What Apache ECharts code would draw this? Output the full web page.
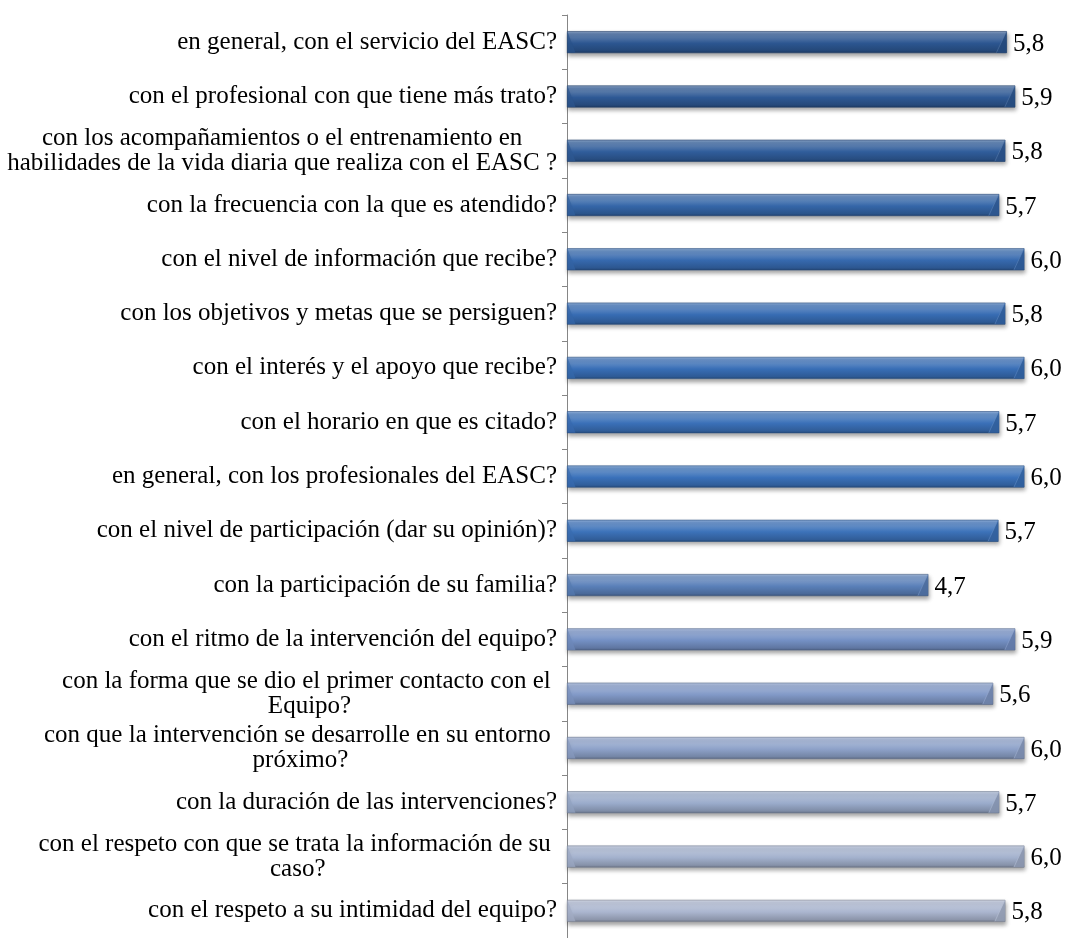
<!DOCTYPE html>
<html>
<head>
<meta charset="utf-8">
<script src="https://cdn.jsdelivr.net/npm/echarts@6/dist/echarts.min.js"></script>
<style>
html, body { margin: 0; padding: 0; background: #fff; }
#chart { width: 1075px; height: 938px; }
</style>
</head>
<body>
<div id="chart"></div>
<script>
var categories = [
  'en general, con el servicio del EASC?',
  'con el profesional con que tiene más trato?',
  'con los acompañamientos o el entrenamiento en\nhabilidades de la vida diaria que realiza con el EASC ?',
  'con la frecuencia con la que es atendido?',
  'con el nivel de información que recibe?',
  'con los objetivos y metas que se persiguen?',
  'con el interés y el apoyo que recibe?',
  'con el horario en que es citado?',
  'en general, con los profesionales del EASC?',
  'con el nivel de participación (dar su opinión)?',
  'con la participación de su familia?',
  'con el ritmo de la intervención del equipo?',
  'con la forma que se dio el primer contacto con el \nEquipo?',
  'con que la intervención se desarrolle en su entorno \npróximo?',
  'con la duración de las intervenciones?',
  'con el respeto con que se trata la información de su \ncaso?',
  'con el respeto a su intimidad del equipo?'
];
var values = [5.77, 5.88, 5.75, 5.67, 6.0, 5.75, 6.0, 5.67, 6.0, 5.66, 4.74, 5.88, 5.59, 6.0, 5.67, 6.0, 5.75];

// base colour of each bar, top to bottom
var barColors = ['#2c5691', '#2e5995', '#305d9b', '#3566a8', '#3669ae', '#376cb3', '#386eb6', '#3a70b8',
  '#3a71ba', '#3c72b9', '#5a80b9', '#7490c4', '#8199c7', '#8ea2c9', '#9aabcb', '#a3b1cd', '#abb6cf'];

function mix(hex, target, t) {
  var a = parseInt(hex.slice(1), 16);
  var r = (a >> 16) & 255, g = (a >> 8) & 255, b = a & 255;
  var tv = target === 'w' ? 255 : 0;
  r = Math.round(r + (tv - r) * t);
  g = Math.round(g + (tv - g) * t);
  b = Math.round(b + (tv - b) * t);
  return 'rgb(' + r + ',' + g + ',' + b + ')';
}

function barGradient(c) {
  return new echarts.graphic.LinearGradient(0, 0, 0, 1, [
    { offset: 0, color: mix(c, 'w', 0.45) },
    { offset: 0.12, color: mix(c, 'w', 0.25) },
    { offset: 0.3, color: mix(c, 'w', 0.18) },
    { offset: 0.55, color: c },
    { offset: 0.9, color: mix(c, 'k', 0.18) },
    { offset: 1, color: mix(c, 'k', 0.35) }
  ]);
}

var serif = '"Liberation Serif", "Times New Roman", serif';
var barH = 22;

var myChart = echarts.init(document.getElementById('chart'));

var option = {
  backgroundColor: '#fff',
  animation: false,
  grid: { left: 567, right: 1, top: 15, bottom: -3, containLabel: false },
  xAxis: {
    type: 'value',
    min: 0,
    max: 6.65,
    show: false
  },
  yAxis: {
    type: 'category',
    inverse: true,
    data: categories,
    axisLine: { show: true, lineStyle: { color: '#868686', width: 1 } },
    axisTick: { show: true, length: 5, lineStyle: { color: '#868686' } },
    splitLine: { show: false },
    axisLabel: {
      margin: 10,
      color: '#000',
      fontFamily: serif,
      fontSize: 25,
      lineHeight: 25,
      formatter: function (v) {
        return v.split('\n').map(function (l) { return '{c|' + l + '}'; }).join('\n');
      },
      rich: {
        c: { align: 'center', fontFamily: serif, fontSize: 25, lineHeight: 25, color: '#000' }
      }
    }
  },
  series: [
    {
      type: 'bar',
      barWidth: barH,
      data: values.map(function (v, i) {
        return {
          value: v,
          itemStyle: {
            color: barGradient(barColors[i]),
            borderColor: mix(barColors[i], 'k', 0.3),
            borderWidth: 0.6,
            shadowColor: 'rgba(0,0,0,0.35)',
            shadowBlur: 4,
            shadowOffsetX: 1,
            shadowOffsetY: 3
          }
        };
      }),
      label: {
        show: true,
        position: 'right',
        distance: 6,
        color: '#000',
        fontFamily: serif,
        fontSize: 25,
        offset: [0, 2],
        formatter: function (p) { return p.value.toFixed(1).replace('.', ','); }
      },
      z: 2
    },
    {
      // bevelled ends of the bars
      type: 'custom',
      data: values.map(function (v, i) { return [v, i]; }),
      encode: { x: 0, y: 1 },
      z: 3,
      silent: true,
      renderItem: function (params, api) {
        var i = api.value(1);
        var end = api.coord([api.value(0), i]);
        var start = api.coord([0, i]);
        var c = barColors[i];
        var top = end[1] - barH / 2 + 0.5, bot = end[1] + barH / 2 - 0.5;
        var x = end[0] - 0.5, x0 = start[0] + 0.5;
        return {
          type: 'group',
          children: [
            {
              type: 'polygon',
              shape: { points: [[x, top], [x, bot], [x - 10, bot]] },
              style: { fill: mix(c, 'k', 0.15), opacity: 0.9 }
            },
            {
              type: 'line',
              shape: { x1: x, y1: top, x2: x - 10, y2: bot },
              style: { stroke: mix(c, 'w', 0.2), lineWidth: 0.7, opacity: 0.8 }
            },
            {
              type: 'polygon',
              shape: { points: [[x0, top], [x0 + 8, bot], [x0, bot]] },
              style: { fill: mix(c, 'k', 0.05), opacity: 0.7 }
            }
          ]
        };
      }
    }
  ]
};

myChart.setOption(option);
</script>
</body>
</html>
